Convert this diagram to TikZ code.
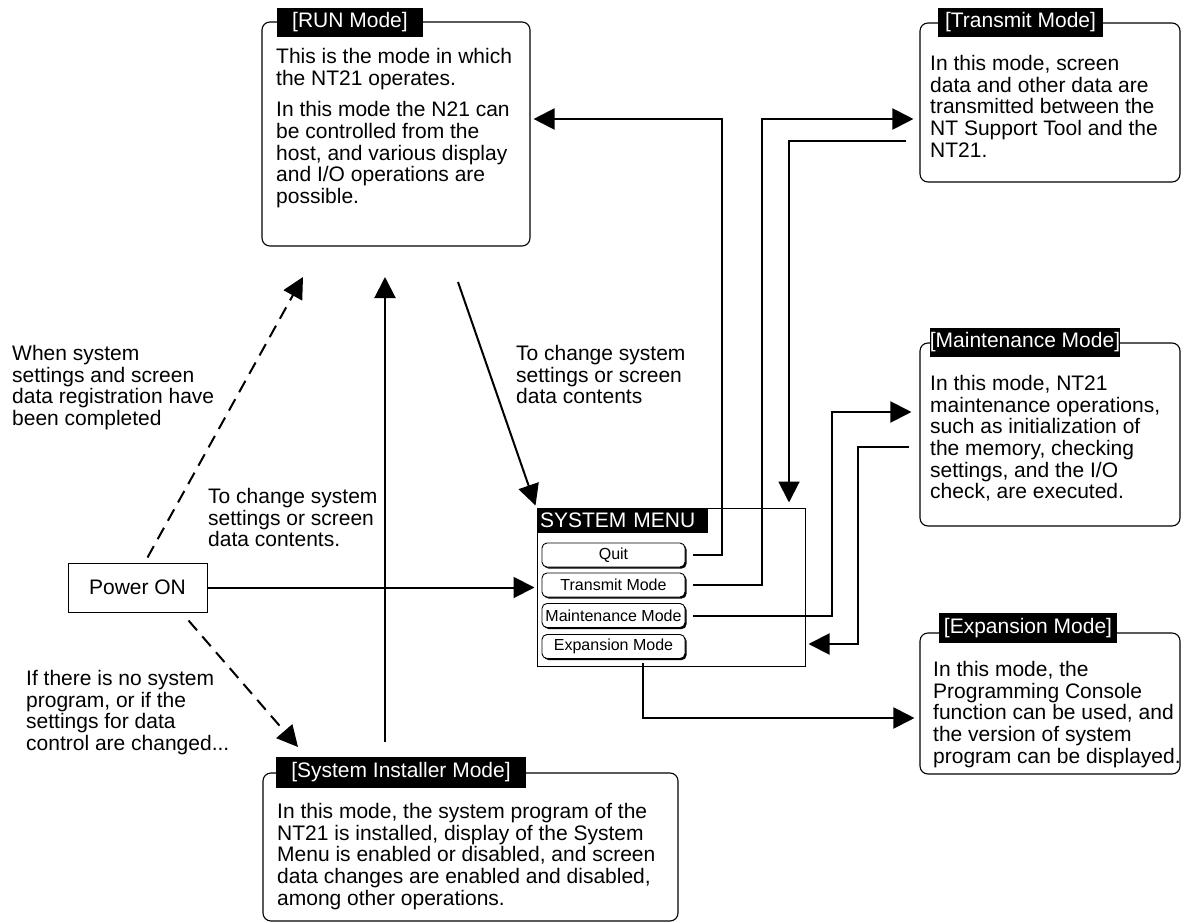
\documentclass[tikz,border=0pt]{standalone}
\usepackage{fontspec}
\setmainfont{Liberation Sans}
\usetikzlibrary{arrows.meta,shadows}
\newcommand\fntbody{\fontsize{21}{21.7}\selectfont}
\newcommand\fntbtn{\fontsize{16}{18}\selectfont}
\begin{document}
\begin{tikzpicture}[x=1pt,y=-1pt,
  modebox/.style={draw, line width=1.1pt, rounded corners=8pt, inner sep=0pt},
  hdr/.style={fill=black, text=white, inner sep=0pt, font=\fntbody},
  txt/.style={anchor=north west, align=left, inner sep=0pt, font=\fntbody},
  plainbox/.style={draw, line width=1pt, inner sep=0pt},
  btn/.style={draw, line width=0.9pt, rounded corners=5pt, fill=white,
     minimum width=143pt, minimum height=24pt, inner sep=0pt, font=\fntbtn,
     drop shadow={shadow xshift=1.6pt, shadow yshift=-1.6pt, fill=black, opacity=1}},
  conn/.style={line width=2pt, -{Triangle[length=21pt,width=21pt]}},
  dconn/.style={conn, dash pattern=on 13pt off 8pt}]
\useasboundingbox (0,0) rectangle (1184,923);

% ---- RUN Mode
\node[modebox, minimum width=268pt, minimum height=224pt] (run) at (396,134) {};
\node[hdr, minimum width=146pt, minimum height=29pt] (runh) at (350,22.5) {[RUN Mode]};
\node[txt] (runt) at (276,48) {This is the mode in which\\the NT21 operates.\\[10pt]In this mode the N21 can\\be controlled from the\\host, and various display\\and I/O operations are\\possible.};

% ---- Transmit Mode
\node[modebox, minimum width=260pt, minimum height=159pt] (trans) at (1050,102.5) {};
\node[hdr, minimum width=165pt, minimum height=29pt] (transh) at (1020.5,22.5) {[Transmit Mode]};
\node[txt] (transt) at (930,55) {In this mode, screen\\data and other data are\\transmitted between the\\NT Support Tool and the\\NT21.};

% ---- Maintenance Mode
\node[modebox, minimum width=260pt, minimum height=183pt] (maint) at (1050,434.5) {};
\node[hdr, minimum width=174pt, minimum height=29pt] (mainth) at (1025,342.5) {[Maintenance Mode]};
\node[txt] (maintt) at (930,375) {In this mode, NT21\\maintenance operations,\\such as initialization of\\the memory, checking\\settings, and the I/O\\check, are executed.};

% ---- Expansion Mode
\node[modebox, minimum width=260pt, minimum height=141pt] (expn) at (1050,703.5) {};
\node[hdr, minimum width=178pt, minimum height=30pt] (expnh) at (1028,628) {[Expansion Mode]};
\node[txt] (expnt) at (933,661) {In this mode, the\\Programming Console\\function can be used, and\\the version of system\\program can be displayed.};

% ---- System Installer Mode
\node[modebox, minimum width=415pt, minimum height=148pt] (ins) at (470.5,847) {};
\node[hdr, minimum width=250pt, minimum height=31pt] (insh) at (401,772.5) {[System Installer Mode]};
\node[txt] (inst) at (277,803) {In this mode, the system program of the\\NT21 is installed, display of the System\\Menu is enabled or disabled, and screen\\data changes are enabled and disabled,\\among other operations.};

% ---- Power ON
\node[plainbox, minimum width=139pt, minimum height=49pt, font=\fntbody] (pwr) at (137.5,587.5) {Power ON};

% ---- SYSTEM MENU
\node[plainbox, minimum width=268pt, minimum height=158pt] (sys) at (671,587) {};
\node[hdr, minimum height=25pt, text width=165pt, inner xsep=3pt, align=left] (sysh) at (622.5,520.5) {SYSTEM MENU};
\node[btn] (quit) at (613.5,555) {Quit};
\node[btn] (trm) at (613.5,585) {Transmit Mode};
\node[btn] (mnt) at (613.5,615.5) {Maintenance Mode};
\node[btn] (exb) at (613.5,646.5) {Expansion Mode};

% ---- labels
\node[txt] (lab1) at (12,345) {When system\\settings and screen\\data registration have\\been completed};
\node[txt] (lab2) at (516,345) {To change system\\settings or screen\\data contents};
\node[txt] (lab3) at (208,488) {To change system\\settings or screen\\data contents.};
\node[txt] (lab4) at (26,670) {If there is no system\\program, or if the\\settings for data\\control are changed...};

% ---- coordinates for bends and free ends
\coordinate (qc) at (722,119);
\coordinate (tc) at (762,119);
\coordinate (tb) at (789,141);
\coordinate (mc) at (832,412);
\coordinate (mb) at (858,447);
\coordinate (mb2) at (858,644);
\coordinate (eb) at (643,718);
\coordinate (r1) at (458,282);
\coordinate (runin1) at (303,277);
\coordinate (insin1) at (298,747);
\coordinate (u1) at (385,742);
\coordinate (u2) at (385,277);

% ---- connectors
\draw[conn, shorten >=3pt] ([xshift=8pt]quit.east) -| (qc) -- (run.east |- qc);
\draw[conn, shorten >=6pt] ([xshift=8pt]trm.east) -| (tc) -- (trans.west |- tc);
\draw[conn, shorten <=13pt, shorten >=5pt] (trans.west |- tb) -- (tb) -- (tb |- sys.north);
\draw[conn, shorten >=8pt] ([xshift=8pt]mnt.east) -| (mc) -- (maint.west |- mc);
\draw[conn, shorten <=10pt, shorten >=3pt] (maint.west |- mb) -- (mb) -- (mb2) -- (sys.east |- mb2);
\draw[conn, shorten <=4pt, shorten >=5pt] (exb.south -| eb) -- (eb) -- (expn.west |- eb);
\draw[conn, shorten >=2pt] (pwr.east) -- (sys.west |- pwr.east);
\draw[conn] (r1) -- ([xshift=-1pt,yshift=2pt]sys.north west);
\draw[conn] (u1) -- (u2);
\draw[dconn] ([xshift=10pt,yshift=5pt]pwr.north) -- (runin1);
\draw[dconn] ([xshift=-19pt,yshift=-8pt]pwr.south east) -- (insin1);
\end{tikzpicture}
\end{document}
